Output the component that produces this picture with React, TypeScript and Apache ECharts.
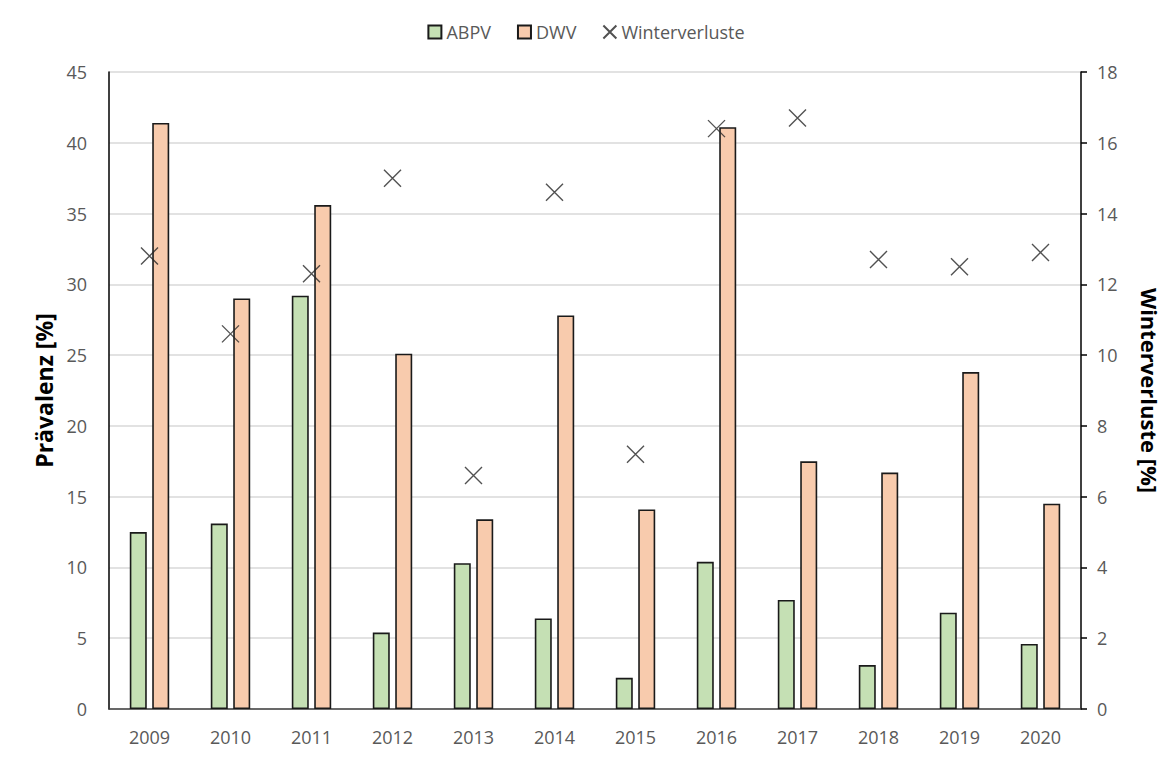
import React, { useEffect, useRef } from "react";
import * as echarts from "echarts";

const years = ["2009", "2010", "2011", "2012", "2013", "2014", "2015", "2016", "2017", "2018", "2019", "2020"];
const abpv = [12.5, 13.1, 29.2, 5.4, 10.3, 6.4, 2.2, 10.4, 7.7, 3.1, 6.8, 4.6];
const dwv = [41.4, 29.0, 35.6, 25.1, 13.4, 27.8, 14.1, 41.1, 17.5, 16.7, 23.8, 14.5];
const winterverluste = [12.8, 10.6, 12.3, 15.0, 6.6, 14.6, 7.2, 16.4, 16.7, 12.7, 12.5, 12.9];

const FONT = "'Open Sans', 'Noto Sans', sans-serif";
const GRAY = "#595959";
const X_SYMBOL = "path://M0,0L10,10M10,0L0,10";

export default function App() {
  const ref = useRef<HTMLDivElement>(null);
  useEffect(() => {
    const chart = echarts.init(ref.current!, null, { renderer: "svg" });
    chart.setOption({
      animation: false,
      backgroundColor: "#ffffff",
      textStyle: { fontFamily: FONT },
      legend: {
        top: 18,
        left: "center",
        itemWidth: 13,
        itemHeight: 13,
        itemGap: 26,
        textStyle: { color: GRAY, fontSize: 18, fontFamily: FONT },
        data: [
          { name: "ABPV", icon: "rect" },
          { name: "DWV", icon: "rect" },
          { name: "Winterverluste", icon: X_SYMBOL },
        ],
      },
      grid: { left: 109, right: 91, top: 72, bottom: 48, containLabel: false },
      xAxis: {
        type: "category",
        data: years,
        boundaryGap: true,
        axisLine: { show: true, lineStyle: { color: "#404040", width: 1.5 } },
        axisTick: { show: false },
        axisLabel: { color: GRAY, fontSize: 18, margin: 19, fontFamily: FONT },
      },
      yAxis: [
        {
          type: "value",
          min: 0,
          max: 45,
          interval: 5,
          name: "Prävalenz [%]",
          nameLocation: "middle",
          nameGap: 53,
          nameRotate: 90,
          nameTextStyle: { color: "#000", fontSize: 23, fontWeight: "bold", fontFamily: FONT },
          axisLine: { show: true, lineStyle: { color: "#000", width: 1.5 } },
          axisTick: { show: false },
          axisLabel: { color: GRAY, fontSize: 18, margin: 22, fontFamily: FONT },
          splitLine: { show: true, lineStyle: { color: "#d9d9d9", width: 1.5 } },
        },
        {
          type: "value",
          min: 0,
          max: 18,
          interval: 2,
          position: "right",
          name: "Winterverluste [%]",
          nameLocation: "middle",
          nameGap: 58,
          nameRotate: -90,
          nameTextStyle: { color: "#000", fontSize: 22, fontWeight: "bold", fontFamily: FONT },
          axisLine: { show: true, lineStyle: { color: "#000", width: 1.5 } },
          axisTick: { show: true, inside: false, length: 6, lineStyle: { color: "#000", width: 1.5 } },
          axisLabel: { color: GRAY, fontSize: 18, margin: 16, fontFamily: FONT },
          splitLine: { show: false },
        },
      ],
      series: [
        {
          name: "ABPV",
          type: "bar",
          yAxisIndex: 0,
          data: abpv,
          barWidth: 17,
          barGap: "32%",
          itemStyle: { color: "#C5E0B4", borderColor: "#1a1a1a", borderWidth: 1.6 },
        },
        {
          name: "DWV",
          type: "bar",
          yAxisIndex: 0,
          data: dwv,
          barWidth: 17,
          itemStyle: { color: "#F8CBAD", borderColor: "#1a1a1a", borderWidth: 1.6 },
        },
        {
          name: "Winterverluste",
          type: "scatter",
          yAxisIndex: 1,
          data: winterverluste,
          symbol: X_SYMBOL,
          symbolSize: 17,
          itemStyle: { color: "transparent", borderColor: "#262626", borderWidth: 1.4 },
          z: 5,
        },
      ],
    });
    return () => chart.dispose();
  }, []);
  return (
    <div
      ref={ref}
      style={{ position: "fixed", left: 0, top: 0, width: 1172, height: 757 }}
    />
  );
}
